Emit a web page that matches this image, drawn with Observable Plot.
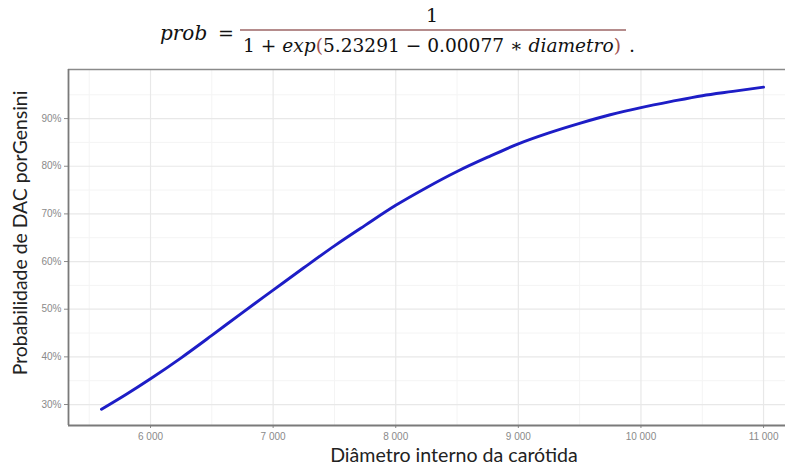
<!DOCTYPE html>
<html>
<head>
<meta charset="utf-8">
<script src="https://cdn.jsdelivr.net/npm/d3@7"></script>
<script src="https://cdn.jsdelivr.net/npm/@observablehq/plot@0.6"></script>
<style>
  html, body { margin: 0; padding: 0; background: #fff; }
  body { width: 785px; height: 467px; overflow: hidden; position: relative; }
  #formula { position: relative; height: 62px; font-family: "DejaVu Serif", serif; color: #111; }
  #formula span { position: absolute; white-space: nowrap; }
  .it { font-style: italic; }
  .par { color: #a0524f; }
  #bar { position: absolute; left: 240px; top: 29px; width: 386px; height: 1.5px; background: #b58c8c; }
</style>
</head>
<body>
<div id="formula">
  <span class="it" style="left:160px;top:21px;font-size:20px;">prob</span>
  <span style="left:218px;top:22px;font-size:19px;">=</span>
  <span style="left:426px;top:4px;font-size:19px;">1</span>
  <div id="bar"></div>
  <span id="den" style="left:243px;top:35px;font-size:18.6px;">1 + <i>exp</i><b class="par" style="font-weight:normal">(</b>5.23291 − 0.00077 ∗ <i>diametro</i><b class="par" style="font-weight:normal">)</b></span>
  <span style="left:629px;top:34px;font-size:19px;">.</span>
</div>
<div id="chart"></div>
<script>
// Values
const diametro = [5600, 5800, 6000, 6250, 6500, 6750, 7000, 7250, 7500, 7750, 8000, 8250, 8500, 8750, 9000, 9250, 9500, 9750, 10000, 10250, 10500, 10750, 11000];
const prob = [0.290, 0.321, 0.354, 0.398, 0.445, 0.493, 0.540, 0.587, 0.633, 0.676, 0.718, 0.755, 0.789, 0.819, 0.847, 0.870, 0.890, 0.908, 0.923, 0.936, 0.948, 0.957, 0.966];
const xTicks = [6000, 7000, 8000, 9000, 10000, 11000];
const xMinor = [5500, 6500, 7500, 8500, 9500, 10500];
const yTicks = [0.3, 0.4, 0.5, 0.6, 0.7, 0.8, 0.9];
const yMinor = [0.35, 0.45, 0.55, 0.65, 0.75, 0.85, 0.95];
const xDomain = [5331, 11179];
const yDomain = [0.256, 1.003];

const data = diametro.map((d, i) => ({diametro: d, prob: prob[i]}));

const chart = Plot.plot({
  width: 785,
  height: 405,
  marginLeft: 68,
  marginRight: 0,
  marginTop: 7,
  marginBottom: 42,
  style: {background: "#fff", fontFamily: "'Liberation Sans', Arial, sans-serif"},
  x: {domain: xDomain, ticks: xTicks, tickSize: 3, tickPadding: 4, label: null,
      tickFormat: d => d3.format(",")(d).replace(",", " ")},
  y: {domain: yDomain, ticks: yTicks, tickSize: 4, tickPadding: 3, label: null,
      tickFormat: d => Math.round(d * 100) + "%"},
  marks: [
    Plot.ruleX(xMinor, {stroke: "#f4f4f4", strokeWidth: 1}),
    Plot.ruleY(yMinor, {stroke: "#f4f4f4", strokeWidth: 1}),
    Plot.ruleX(xTicks, {stroke: "#e8e8e8", strokeWidth: 1.2}),
    Plot.ruleY(yTicks, {stroke: "#e8e8e8", strokeWidth: 1.2}),
    Plot.ruleY([yDomain[1]], {stroke: "#8a8a8a", strokeWidth: 1.5}),
    Plot.ruleY([yDomain[0]], {stroke: "#7a7a7a", strokeWidth: 1.8}),
    Plot.ruleX([xDomain[0]], {stroke: "#7a7a7a", strokeWidth: 1.8}),
    Plot.line(data, {x: "diametro", y: "prob", stroke: "#1d1dc6", strokeWidth: 2.9, curve: "monotone-x"})
  ]
});

const svg = d3.select(chart);
svg.selectAll("g[aria-label$='tick label']")
  .attr("fill", "#8a8a8a").style("font-size", "10px");
svg.selectAll("g[aria-label$='tick']").attr("stroke", "#8a8a8a");

svg.append("text")
  .attr("x", 454).attr("y", 400)
  .attr("text-anchor", "middle")
  .style("font-family", "Lato, sans-serif").style("font-size", "19.6px").attr("fill", "#222")
  .text("Diâmetro interno da carótida");
svg.append("text")
  .attr("transform", "translate(27,171) rotate(-90)")
  .attr("text-anchor", "middle")
  .style("font-family", "Lato, sans-serif").style("font-size", "19.4px").attr("fill", "#222")
  .text("Probabilidade de DAC porGensini");

document.getElementById("chart").appendChild(chart);
</script>
</body>
</html>
